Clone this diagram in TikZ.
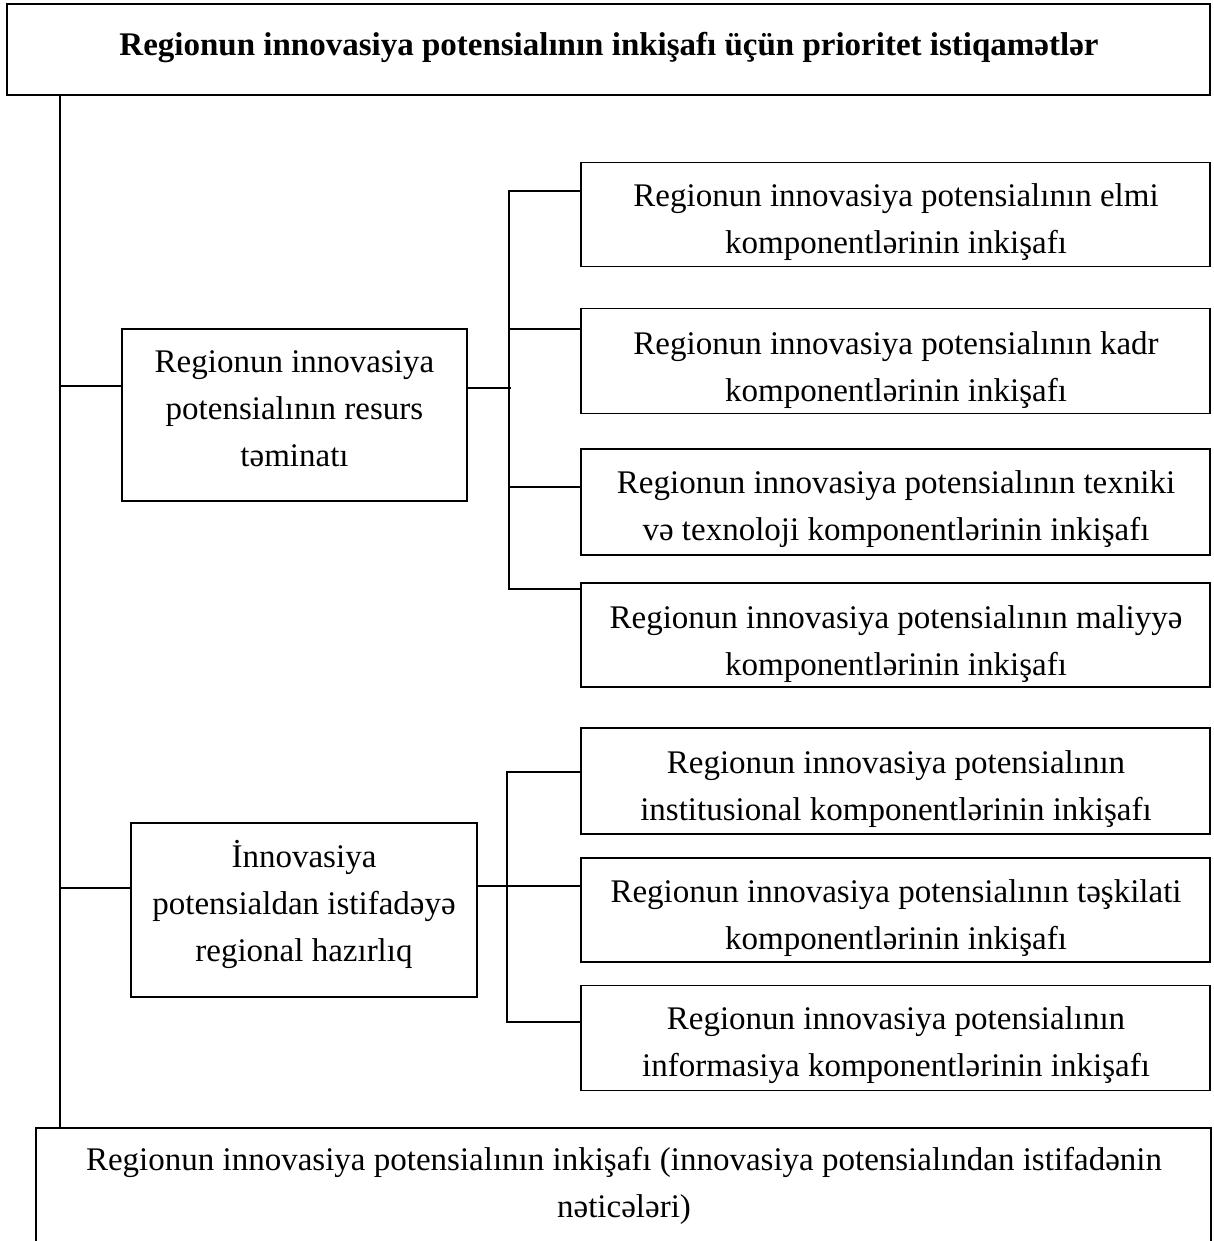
\documentclass[tikz,border=0pt]{standalone}
\usepackage{fontspec}
\setmainfont{Liberation Serif}
\begin{document}
\begin{tikzpicture}[x=1pt,y=-1pt,
  frame/.style={draw=black, line width=1.8pt, inner sep=0pt, outer sep=0pt, rectangle},
  txt/.style={align=center, inner sep=0pt, text=black, font=\fontsize{33pt}{47pt}\selectfont},
  ttl/.style={txt, font=\fontsize{33pt}{47pt}\selectfont\bfseries},
  conn/.style={draw=black, line width=1.8pt, line join=miter}]
\useasboundingbox (0,0) rectangle (1213,1241);
\clip (0,0) rectangle (1213,1241);
\fill[white] (0,0) rectangle (1213,1241);

% title box
\node[frame, minimum width=1203pt, minimum height=91pt] (top) at (608.5,49.5) {};
\node[ttl] (topt) at (609,46.5) {\strut Regionun innovasiya potensialının inkişafı üçün prioritet istiqamətlər\strut};

% left boxes
\node[frame, minimum width=345pt, minimum height=172pt] (A) at (294.5,415) {};
\node[txt] (At) at (294.5,410.5) {\strut Regionun innovasiya\\potensialının resurs\\təminatı\strut};

\node[frame, minimum width=346pt, minimum height=174pt] (B) at (304,910) {};
\node[txt] (Bt) at (304,905.5) {\strut İnnovasiya\\potensialdan istifadəyə\\regional hazırlıq\strut};

% right boxes
\node[frame, minimum width=629pt, minimum height=104pt] (r1) at (895.5,214.5) {};
\node[txt] (r1t) at (896,221) {\strut Regionun innovasiya potensialının elmi\\komponentlərinin inkişafı\strut};

\node[frame, minimum width=629pt, minimum height=105pt] (r2) at (895.5,361) {};
\node[txt] (r2t) at (896,368.8) {\strut Regionun innovasiya potensialının kadr\\komponentlərinin inkişafı\strut};

\node[frame, minimum width=629pt, minimum height=106pt] (r3) at (895.5,502) {};
\node[txt] (r3t) at (896,507.2) {\strut Regionun innovasiya potensialının texniki\\və texnoloji komponentlərinin inkişafı\strut};

\node[frame, minimum width=629pt, minimum height=103.4pt] (r4) at (895.5,635) {};
\node[txt] (r4t) at (896,642.2) {\strut Regionun innovasiya potensialının maliyyə\\komponentlərinin inkişafı\strut};

\node[frame, minimum width=629pt, minimum height=106pt] (r5) at (895.5,781.3) {};
\node[txt] (r5t) at (896,787.7) {\strut Regionun innovasiya potensialının\\institusional komponentlərinin inkişafı\strut};

\node[frame, minimum width=629pt, minimum height=104pt] (r6) at (895.5,910) {};
\node[txt] (r6t) at (896,916.8) {\strut Regionun innovasiya potensialının təşkilati\\komponentlərinin inkişafı\strut};

\node[frame, minimum width=629pt, minimum height=105pt] (r7) at (895.5,1038) {};
\node[txt] (r7t) at (896,1043.5) {\strut Regionun innovasiya potensialının\\informasiya komponentlərinin inkişafı\strut};

% bottom box (runs past the lower edge)
\node[frame, minimum width=1175pt, minimum height=140pt] (bot) at (623.5,1198) {};
\node[txt] (bott) at (624,1185) {\strut Regionun innovasiya potensialının inkişafı (innovasiya potensialından istifadənin\\nəticələri)\strut};

% trunk
\coordinate (tr) at (60,0);
\draw[conn] (top.south -| tr) -- (bot.north -| tr);
\coordinate (ja) at (60,386);
\draw[conn] (ja) -- (A.west |- ja);
\coordinate (jb) at (60,888);
\draw[conn] (jb) -- (B.west |- jb);

% upper bus
\coordinate (u1) at (509,191);
\coordinate (u2) at (509,329);
\coordinate (u3) at (509,487);
\coordinate (u4) at (509,589);
\coordinate (ua) at (511,388);
\draw[conn] (r1.west |- u1) -- (u1) -- (u4) -- (r4.west |- u4);
\draw[conn] (u2) -- (r2.west |- u2);
\draw[conn] (u3) -- (r3.west |- u3);
\draw[conn] (A.east |- ua) -- (ua);

% lower bus
\coordinate (v5) at (507,772);
\coordinate (v6) at (507,886);
\coordinate (v7) at (507,1022);
\draw[conn] (r5.west |- v5) -- (v5) -- (v7) -- (r7.west |- v7);
\draw[conn] (B.east |- v6) -- (r6.west |- v6);
\end{tikzpicture}
\end{document}
